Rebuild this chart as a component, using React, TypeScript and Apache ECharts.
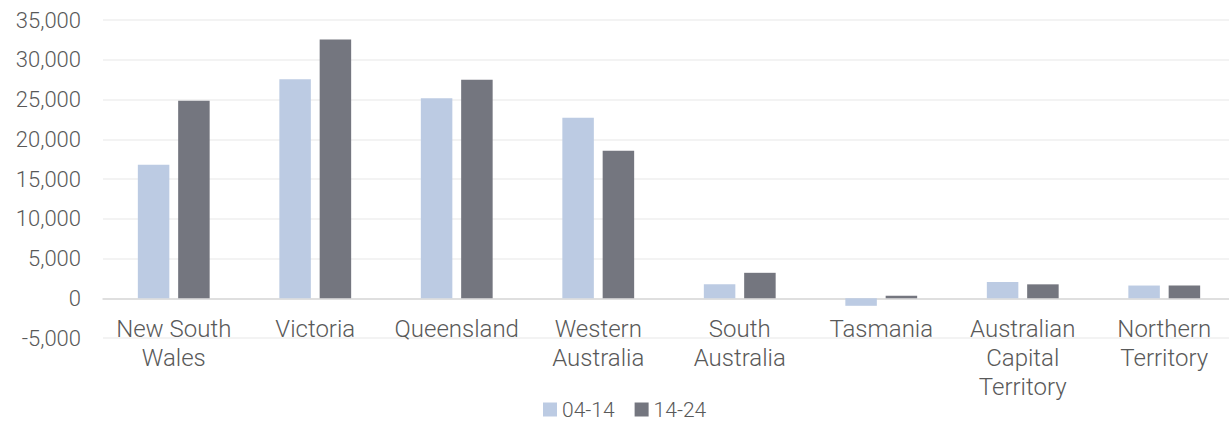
import React, { useEffect, useRef } from "react";
import * as echarts from "echarts";

const categories = [
  "New South\nWales",
  "Victoria",
  "Queensland",
  "Western\nAustralia",
  "South\nAustralia",
  "Tasmania",
  "Australian\nCapital\nTerritory",
  "Northern\nTerritory",
];
const series0414 = [16800, 27550, 25150, 22700, 1750, -950, 2050, 1600];
const series1424 = [24850, 32550, 27500, 18550, 3200, 330, 1750, 1600];
const seriesNames = ["04-14", "14-24"];
const yTicks = { min: -5000, max: 35000, interval: 5000 };

const FONT = "Roboto, 'Liberation Sans', Arial, sans-serif";
const TEXT = "#595959";

export default function App() {
  const ref = useRef<HTMLDivElement>(null);
  useEffect(() => {
    if (!ref.current) return;
    const chart = echarts.init(ref.current, undefined, { renderer: "svg" });
    const gridTop = 20;
    const gridHeight = 318;
    const zeroOffset = (gridHeight * (0 - yTicks.min)) / (yTicks.max - yTicks.min);
    chart.setOption({
      animation: false,
      backgroundColor: "#ffffff",
      grid: {
        left: 103,
        top: gridTop,
        width: 1132,
        height: gridHeight,
        containLabel: false,
        outerBoundsMode: "none",
      },
      legend: {
        data: seriesNames,
        top: 394,
        left: 538,
        icon: "rect",
        itemWidth: 14,
        itemHeight: 14,
        itemGap: 20,
        textStyle: { color: TEXT, fontSize: 21, fontFamily: FONT, fontWeight: 300 },
      },
      xAxis: {
        type: "category",
        data: categories,
        offset: -zeroOffset,
        axisLine: { onZero: false, lineStyle: { color: "#D9D9D9", width: 1.5 } },
        axisTick: { show: false },
        axisLabel: {
          interval: 0,
          margin: 16,
          color: TEXT,
          fontSize: 24,
          lineHeight: 29,
          fontFamily: FONT,
          fontWeight: 300,
        },
      },
      yAxis: {
        type: "value",
        min: yTicks.min,
        max: yTicks.max,
        interval: yTicks.interval,
        axisLine: { show: false },
        axisTick: { show: false },
        splitLine: { lineStyle: { color: "#EFEFEF", width: 1.5 } },
        axisLabel: {
          margin: 22,
          color: TEXT,
          fontSize: 22,
          fontFamily: FONT,
          fontWeight: 300,
          formatter: (v: number) => v.toLocaleString("en-US"),
        },
      },
      series: [
        {
          name: seriesNames[0],
          type: "bar",
          data: series0414,
          barWidth: 31.5,
          barGap: "28%",
          itemStyle: { color: "#BCCBE3" },
        },
        {
          name: seriesNames[1],
          type: "bar",
          data: series1424,
          barWidth: 31.5,
          itemStyle: { color: "#74767F" },
        },
      ],
    });
    return () => chart.dispose();
  }, []);
  return (
    <div
      ref={ref}
      style={{ position: "fixed", left: 0, top: 0, width: 1229, height: 423 }}
    />
  );
}
